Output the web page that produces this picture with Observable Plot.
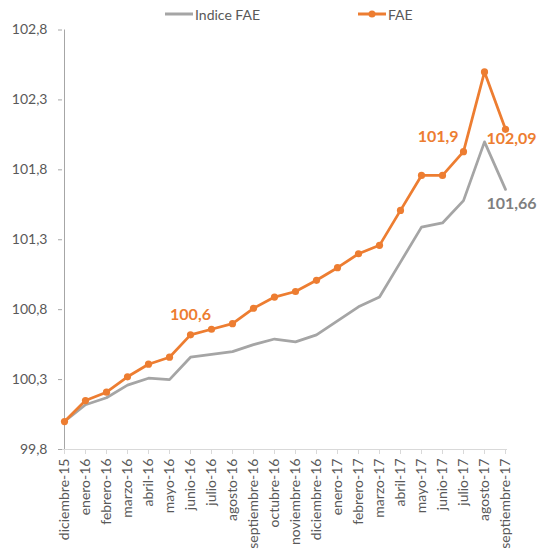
<!DOCTYPE html>
<html><head><meta charset="utf-8">
<script src="https://cdn.jsdelivr.net/npm/d3@7"></script>
<script src="https://cdn.jsdelivr.net/npm/@observablehq/plot@0.6"></script>
<style>
body{margin:0;background:#fff;font-family:Lato,"Open Sans",sans-serif;}
#wrap{position:relative;width:540px;height:556px;}
#legend{position:absolute;left:0;top:0;height:24px;width:540px;font-size:14px;color:#595959;z-index:2;}
.item{position:absolute;top:5px;display:flex;align-items:center;height:18px;}
.item svg{margin-right:2px;}
#chart{position:absolute;left:0;top:0;}
</style></head><body>
<div id="wrap">
<div id="chart"></div>
<div id="legend"></div>
</div>
<script>
const months = ["diciembre-15","enero-16","febrero-16","marzo-16","abril-16","mayo-16","junio-16","julio-16","agosto-16","septiembre-16","octubre-16","noviembre-16","diciembre-16","enero-17","febrero-17","marzo-17","abril-17","mayo-17","junio-17","julio-17","agosto-17","septiembre-17"];
const indiceFAE = [100.0,100.12,100.17,100.26,100.31,100.30,100.46,100.48,100.50,100.55,100.59,100.57,100.62,100.72,100.82,100.89,101.14,101.39,101.42,101.58,102.0,101.66];
const fae = [100.0,100.15,100.21,100.32,100.41,100.46,100.62,100.66,100.70,100.81,100.89,100.93,101.01,101.10,101.20,101.26,101.51,101.76,101.76,101.93,102.50,102.09];
const yTicks = [99.8,100.3,100.8,101.3,101.8,102.3,102.8];
const seriesNames = ["Indice FAE","FAE"];
const faeLabelMonths = ["junio-16","julio-17","septiembre-17"];
const faeLabelTexts = ["100,6","101,9","102,09"];
const indiceLabelMonths = ["septiembre-17"];
const indiceLabelTexts = ["101,66"];

const GRAY = "#A5A5A5", ORANGE = "#ED7D31";
const fmt = d => d.toFixed(1).replace(".", ",");

const indiceData = months.map((m,i) => ({month:m, value:indiceFAE[i]}));
const faeData = months.map((m,i) => ({month:m, value:fae[i]}));
const faeLabels = faeLabelMonths.map((m,i) => ({month:m, value:fae[months.indexOf(m)], text:faeLabelTexts[i]}));
const indiceLabels = indiceLabelMonths.map((m,i) => ({month:m, value:indiceFAE[months.indexOf(m)], text:indiceLabelTexts[i]}));

// legend
const legend = document.getElementById("legend");
const lg = [
  {name:seriesNames[0], color:GRAY, marker:false, left:165},
  {name:seriesNames[1], color:ORANGE, marker:true, left:358}
];
lg.forEach(l => {
  const d = document.createElement("div");
  d.className = "item";
  d.style.left = l.left + "px";
  d.innerHTML = `<svg width="28" height="10"><line x1="0" x2="28" y1="5" y2="5" stroke="${l.color}" stroke-width="3"/>${l.marker?`<circle cx="14" cy="5" r="3.5" fill="${l.color}"/>`:""}</svg><span>${l.name}</span>`;
  legend.appendChild(d);
});

const chart = Plot.plot({
  width: 540,
  height: 556,
  marginTop: 29.5,
  marginBottom: 107,
  marginLeft: 62,
  marginRight: 33,
  style: {fontFamily: "Lato, 'Open Sans', sans-serif", fontSize: "14px", color: "#595959", background: "transparent"},
  x: {type: "point", domain: months, padding: 0},
  y: {domain: [99.8, 102.8]},
  marks: [
    Plot.ruleY([99.8], {stroke: "#D9D9D9", strokeWidth: 1}),
    Plot.ruleX([months[0]], {stroke: "#A6A6A6", strokeWidth: 1}),
    Plot.axisY({ticks: yTicks, tickFormat: fmt, tickSize: 4, tickPadding: 11, stroke: "#A6A6A6", fill: "#595959", fontSize: 14, label: null}),
    Plot.axisX({tickRotate: -90, tickSize: 5, tickPadding: 4, stroke: "#D9D9D9", fill: "#595959", fontSize: 14, label: null}),
    Plot.line(indiceData, {x: "month", y: "value", stroke: GRAY, strokeWidth: 2.75}),
    Plot.line(faeData, {x: "month", y: "value", stroke: ORANGE, strokeWidth: 2.75}),
    Plot.dot(faeData, {x: "month", y: "value", fill: ORANGE, r: 3.6}),
    Plot.text(faeLabels.slice(0,1), {x: "month", y: "value", text: "text", dy: -20, fill: ORANGE, fontWeight: "bold", fontSize: 16}),
    Plot.text(faeLabels.slice(1,2), {x: "month", y: "value", text: "text", dx: -5, dy: -15, textAnchor: "end", fill: ORANGE, fontWeight: "bold", fontSize: 16}),
    Plot.text(faeLabels.slice(2,3), {x: "month", y: "value", text: "text", dx: 6, dy: 10, fill: ORANGE, fontWeight: "bold", fontSize: 16}),
    Plot.text(indiceLabels, {x: "month", y: "value", text: "text", dx: 6, dy: 14, fill: "#7F7F7F", fontWeight: "bold", fontSize: 16})
  ]
});
document.getElementById("chart").appendChild(chart);
</script>
</body></html>
